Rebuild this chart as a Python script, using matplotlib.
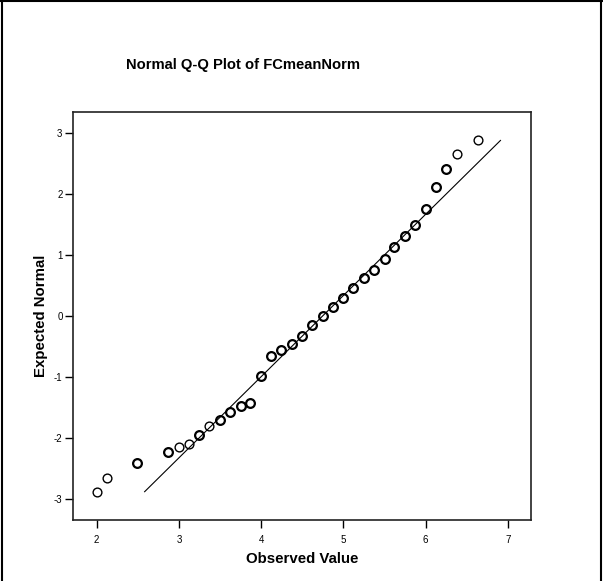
import matplotlib
matplotlib.use("Agg")
import matplotlib.pyplot as plt
from matplotlib.lines import Line2D

# Observed values of FCmeanNorm and their expected normal scores
observed = [2.00, 2.12, 2.49, 2.87, 3.00, 3.12, 3.25, 3.37, 3.50, 3.62,
            3.75, 3.87, 4.00, 4.12, 4.24, 4.37, 4.50, 4.62, 4.75, 4.87,
            5.00, 5.12, 5.25, 5.37, 5.50, 5.62, 5.75, 5.87, 6.00, 6.12,
            6.25, 6.38, 6.63]
expected = [-2.89, -2.66, -2.41, -2.23, -2.15, -2.10, -1.95, -1.81, -1.70, -1.58,
            -1.48, -1.42, -0.98, -0.65, -0.56, -0.45, -0.32, -0.15, 0.00, 0.15,
            0.30, 0.46, 0.62, 0.76, 0.93, 1.14, 1.32, 1.49, 1.75, 2.12,
            2.41, 2.66, 2.88]
# values that occur only once (drawn with a lighter outline)
single = [True, True, False, False, True, True, False, True, False, False,
          False, False, False, False, False, False, False, False, False, False,
          False, False, False, False, False, False, False, False, False, False,
          False, True, True]

# Reference normal line: observed = mean + sd * z
line_mean = 4.746
line_sd = 0.751
line_z = [-2.88, 2.88]

x_ticks = [2, 3, 4, 5, 6, 7]
y_ticks = [-3, -2, -1, 0, 1, 2, 3]

plt.rcParams['font.family'] = ['Liberation Sans', 'DejaVu Sans']

fig = plt.figure(figsize=(6.03, 5.81), dpi=100)
ax = fig.add_axes([0.121, 0.105, 0.7596, 0.702])

line_x = [line_mean + line_sd * z for z in line_z]
ax.plot(line_x, line_z, color='black', lw=0.8, zorder=2)

for xv, yv, s in zip(observed, expected, single):
    ax.plot(xv, yv, marker='o', ms=6.3, mfc='none', mec='black',
            mew=1.0 if s else 1.6, ls='none', zorder=3)

ax.set_xlim(1.712, 7.280)
ax.set_ylim(-3.344, 3.344)
ax.set_xticks(x_ticks)
ax.set_yticks(y_ticks)
ax.set_xticklabels([str(v) for v in x_ticks])
ax.set_yticklabels([str(v) for v in y_ticks])
ax.tick_params(axis='both', direction='out', length=5.5, width=1.0,
               labelsize=7, colors='black')
ax.tick_params(axis='x', pad=5)
ax.tick_params(axis='y', pad=2)
for sp in ax.spines.values():
    sp.set_linewidth(1.2)
    sp.set_color('#222222')

ax.set_xlabel('Observed Value', fontsize=10.8, fontweight='bold', labelpad=5)
ax.set_ylabel('Expected Normal', fontsize=10.8, fontweight='bold', labelpad=4)

fig.text(243 / 603, 1 - 65 / 581, 'Normal Q-Q Plot of FCmeanNorm',
         ha='center', va='center', fontsize=10.6, fontweight='bold')

# frame around the chart
fig.add_artist(Line2D([0.004, 0.004], [0, 1], color='black', lw=1.5,
                      transform=fig.transFigure))
fig.add_artist(Line2D([0, 1], [0.999, 0.999], color='black', lw=1.5,
                      transform=fig.transFigure))
fig.add_artist(Line2D([0.997, 0.997], [0, 1], color='black', lw=1.5,
                      transform=fig.transFigure))

fig.savefig('out.png', dpi=100, facecolor='white')
